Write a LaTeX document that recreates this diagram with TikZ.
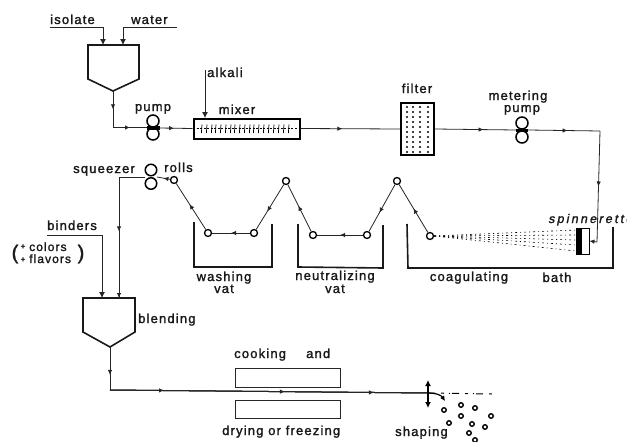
\documentclass[tikz,border=0pt]{standalone}
\usepackage{fontspec}
\setmainfont{Liberation Sans}[LetterSpace=9,FakeBold=1.6]
\newfontfamily\slantfont{Liberation Sans}[LetterSpace=18,FakeSlant=0.2,FakeBold=1.6]
\usetikzlibrary{arrows.meta,decorations.markings}
\tikzset{
  lbl/.style={font=\fontsize{13}{15}\selectfont,inner sep=0pt,text=black!90},
  flow/.style={line width=0.8pt,draw=black!85},
  wall/.style={line width=1.6pt,draw=black!90,line join=miter},
  thinbox/.style={line width=1pt,draw=black!85},
  roller/.style={circle,draw=black,line width=1.3pt,fill=white,inner sep=0pt,minimum size=7pt},
  pumpwheel/.style={circle,draw=black,line width=1.5pt,fill=white,inner sep=0pt,minimum size=12pt},
  midarr/.style={postaction={decorate},decoration={markings,mark=at position #1 with {\arrow{Latex[length=5pt,width=4.5pt]}}}},
  endarr/.style={-{Latex[length=5pt,width=4.5pt]}},
}
\begin{document}
\begin{tikzpicture}[x=1pt,y=-1pt]
\path[use as bounding box,clip] (0,0) rectangle (627,442);
\fill[white] (0,0) rectangle (627,442);

% ---- first hopper and feeds
\coordinate (hTL) at (88,45); \coordinate (hTR) at (139,45);
\coordinate (hT) at (113,91);
\draw[wall] (hTL) -- (hTR) -- (139,79) -- (hT) -- (88,79) -- cycle;
\node[lbl,anchor=base west] (isolate) at (50,24) {isolate};
\node[lbl,anchor=base west] (water) at (131,24) {water};
\coordinate (isoS) at (50,27); \coordinate (isoC) at (103,27); \coordinate (isoE) at (103,45);
\coordinate (watS) at (177,27); \coordinate (watC) at (123,27); \coordinate (watE) at (123,45);
\draw[flow,-{Latex[length=6pt,width=6pt]}] (isoS) -- (isoC) -- (isoE);
\draw[flow,-{Latex[length=6pt,width=6pt]}] (watS) -- (watC) -- (watE);

% ---- pump
\node[pumpwheel] (p1a) at (153,121) {};
\node[pumpwheel] (p1b) at (153,134) {};
\node[lbl,anchor=base] (pumpt) at (153,111) {pump};
\coordinate (hC) at (113,127.5);
\draw[flow,midarr=.5] (hT) -- (hC);
\draw[flow,midarr=.5] (hC) -- (147,127.5);
\fill[black] (146.5,125.5) rectangle (159.5,129.5);

% ---- mixer
\node[draw=black,line width=2pt,fill=white,minimum width=106pt,minimum height=20pt,inner sep=0pt] (mixer) at (246.5,128.5) {};
\draw[flow,midarr=.45] (159,128) -- (mixer.west);
\draw[line width=0.6pt,dash pattern=on 2pt off 1.5pt] ([xshift=4pt]mixer.west) -- ([xshift=-3pt]mixer.east);
\foreach \x in {202,207,212,216,221,226,231,235,240,245,250,254,259,264,269,274,279,284,289}
  \draw[line width=0.7pt] (\x,124.5) -- (\x-0.6,133);
\node[lbl,anchor=base] (mixert) at (237,114) {mixer};
\node[lbl,anchor=base west] (alkali) at (207,77) {alkali};
\coordinate (alkS) at (205,70);
\draw[flow,-{Latex[length=6pt,width=6pt]}] (alkS) -- (205,118);

% ---- filter
\node[draw=black,line width=1.7pt,fill=white,minimum width=33pt,minimum height=52pt,inner sep=0pt] (filter) at (417.5,129) {};
\foreach \x in {407,413,420,428}
  \foreach \y in {107,112,...,152}
    \fill[black] (\x,\y) circle (1.1pt);
\node[lbl,anchor=base] (filtert) at (417,93) {filter};
\draw[flow,midarr=.42] (mixer.east) -- (filter.west);

% ---- metering pump
\node[pumpwheel] (p2a) at (522,123) {};
\node[pumpwheel] (p2b) at (522,137) {};
\fill[black] (516,128.5) rectangle (528,132);
\node[lbl,anchor=base] (mpt1) at (518,100) {metering};
\node[lbl,anchor=base] (mpt2) at (522,112) {pump};
\draw[flow,midarr=.6] (filter.east) -- (516,130);
\coordinate (turn) at (600,131);
\coordinate (inj) at (597,242);
\draw[flow,midarr=.55] (528,130) -- (turn);
\draw[flow,midarr=.5] (turn) -- (inj);

% ---- coagulating bath
\draw[wall] (407,224) -- (408,268) -- (613,268) -- (613,227);
\node[lbl,anchor=base] (coag) at (469,281) {coagulating};
\node[lbl,anchor=base] (bath) at (557,282) {bath};

% ---- spinnerette
\node[draw=black,line width=0.9pt,fill=white,minimum width=13pt,minimum height=26pt,inner sep=0pt] (spin) at (582.5,241) {};
\fill[black] (576,228) rectangle (582,254);
\draw[flow,endarr] (inj) -- (spin.east);
\node[lbl,anchor=base west,font=\fontsize{12.5}{14}\slantfont] (spint) at (548,223) {spinnerette};

% ---- rollers
\node[roller] (r1) at (430,236) {};
\node[roller] (t1) at (397,181) {};
\node[roller] (r2) at (367,235) {};
\node[roller] (r3) at (313,235) {};
\node[roller] (t2) at (286,181) {};
\node[roller] (r4) at (254,233) {};
\node[roller] (r5) at (208,233) {};
\node[roller] (t3) at (174,180) {};
\node[pumpwheel,minimum size=11.5pt] (sqa) at (151,170) {};
\node[pumpwheel,minimum size=11.5pt] (sqb) at (151,183.5) {};

\foreach \yy in {230,235,240,245,251}
  \draw[line width=0.6pt,dash pattern=on 2pt off 3pt on 1pt off 3pt] (r1.east) -- (576,\yy);

\draw[flow,midarr=.5] (r1) -- (t1);
\draw[flow,midarr=.6] (t1) -- (r2);
\draw[flow,midarr=.5] (r2) -- (r3);
\draw[flow,midarr=.55] (r3) -- (t2);
\draw[flow,midarr=.6] (t2) -- (r4);
\draw[flow,midarr=.5] (r4) -- (r5);
\draw[flow,midarr=.55] (r5) -- (t3);
\draw[flow,midarr=.5] (t3) -- (157,177);

% ---- vats
\draw[wall] (194,222) -- (194,267) -- (272,267) -- (272,224);
\draw[wall] (298,224) -- (298,267) -- (383,268) -- (383,225);
\node[lbl,anchor=base] (wash1) at (224,281) {washing};
\node[lbl,anchor=base] (wash2) at (224,293) {vat};
\node[lbl,anchor=base] (neut1) at (335,280) {neutralizing};
\node[lbl,anchor=base] (neut2) at (335,293) {vat};

\node[lbl,anchor=base west] (squ) at (73,173) {squeezer};
\node[lbl,anchor=base west] (rol) at (164,172) {rolls};

% ---- blending hopper
\coordinate (bTL) at (83,298); \coordinate (bTR) at (135,298);
\coordinate (bT) at (110,347);
\draw[wall] (bTL) -- (bTR) -- (135,332) -- (bT) -- (83,332) -- cycle;
\node[lbl,anchor=base west] (blend) at (138,323) {blending};
\coordinate (sqC) at (119,177); \coordinate (sqE) at (119,298);
\draw[flow] (145,177) -- (sqC);
\draw[flow,midarr=.45] (sqC) -- (sqE);
\draw[flow,endarr] (119,280) -- (sqE);
\node[lbl,anchor=base west] (bind) at (47,230) {binders};
\coordinate (binS) at (47,235); \coordinate (binC) at (102,235); \coordinate (binE) at (102,298);
\draw[flow,-{Latex[length=6pt,width=6pt]}] (binS) -- (binC) -- (binE);
\node[lbl,anchor=base west,font=\fontsize{12}{14}\selectfont] (col) at (29,251) {colors};
\node[lbl,anchor=base west,font=\fontsize{12}{14}\selectfont] (fla) at (29,263) {flavors};
\node[lbl,anchor=base,font=\fontsize{8}{9}\selectfont] (plus1) at (23,249) {+};
\node[lbl,anchor=base,font=\fontsize{8}{9}\selectfont] (plus2) at (23,262) {+};
\node[lbl,anchor=center,font=\fontsize{20}{22}\selectfont] (lp) at (15,254) {(};
\node[lbl,anchor=center,font=\fontsize{20}{22}\selectfont] (rp) at (81,254) {)};

% ---- cooking and drying
\node[thinbox,draw,minimum width=105pt,minimum height=19pt,inner sep=0pt] (cook) at (287.5,377.5) {};
\node[thinbox,draw,minimum width=105pt,minimum height=17.5pt,inner sep=0pt] (dry) at (287.5,409.5) {};
\node[lbl,anchor=base west] (cookt) at (234,358) {cooking};
\node[lbl,anchor=base west] (andt) at (306,358) {and};
\node[lbl,anchor=base west] (dryt) at (222,435) {drying or freezing};
\node[lbl,anchor=base west] (shap) at (395,436) {shaping};
\coordinate (bC) at (110,390);
\coordinate (cutter) at (428,393);
\coordinate (dashE) at (492,394);
\draw[flow,midarr=.65] (bT) -- (bC);
\draw[line width=1pt,draw=black!85,midarr=.17] (bC) -- (cutter);
\draw[line width=1pt,draw=black!85,midarr=.55] (bC) -- (cutter);
\draw[line width=1pt,draw=black!85,midarr=.83] (bC) -- (cutter);
\draw[line width=1pt,dash pattern=on 7pt off 6pt on 3pt off 5pt on 1pt off 2pt] (cutter) -- (dashE);
\coordinate (cutU) at (428,380); \coordinate (cutD) at (428,408);
\draw[line width=1.4pt,{Latex[length=6pt,width=6pt]}-{Latex[length=6pt,width=6pt]}] (cutU) -- (cutD);
\coordinate (curveE) at (445,401);
\draw[line width=1.2pt,-{Latex[length=5pt,width=5pt]}] (cutter) .. controls (436,393) and (441,395) .. (curveE);

% ---- pellets
\foreach \i/\x/\y in {a/444/410,b/461/405,c/475/408,d/491/416,e/461/416,f/449/423,g/472/424,h/485/427,i/469/433,j/475/440}
  \node[draw=black,line width=1.4pt,fill=white,circle,minimum size=4.5pt,inner sep=0pt] (pel\i) at (\x,\y) {};
\end{tikzpicture}
\end{document}
